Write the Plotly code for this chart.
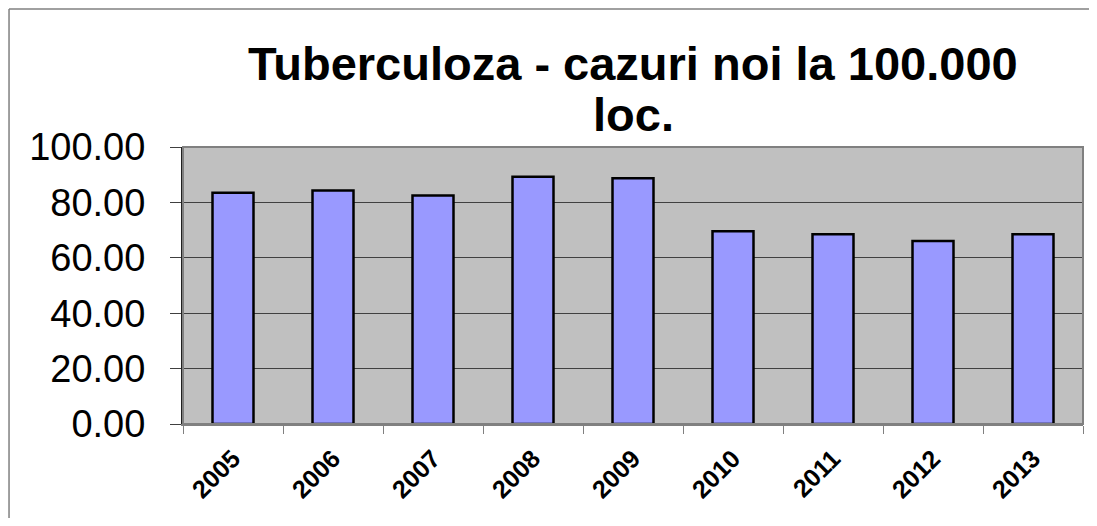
import plotly.graph_objects as go

years = ["2005", "2006", "2007", "2008", "2009", "2010", "2011", "2012", "2013"]
cases = [83.5, 84.3, 82.5, 89.3, 88.7, 69.6, 68.5, 66.1, 68.5]
y_ticks = [0, 20, 40, 60, 80, 100]
y_tick_labels = [f"{v:.2f}" for v in y_ticks]
title_lines = ["Tuberculoza - cazuri noi la 100.000", "loc."]

FONT = "Liberation Sans, Arial, sans-serif"

fig = go.Figure(
    go.Bar(
        x=years,
        y=cases,
        marker=dict(color="#9999FF", line=dict(color="#000000", width=2.5)),
        width=0.41,
        showlegend=False,
    )
)

# the page adds an 8px body margin: size the figure so the page does not scroll
frame = dict(color="#808080", width=1.5)
fig.update_layout(
    width=1089,
    height=510,
    margin=dict(l=175, r=14, t=139, b=94),
    paper_bgcolor="#FFFFFF",
    plot_bgcolor="#C0C0C0",
    font=dict(family=FONT, color="#000000"),
    annotations=[
        dict(
            text=f"<b>{title_lines[0]}</b>",
            xref="paper", yref="paper", x=0.5, y=1.303,
            xanchor="center", yanchor="middle", showarrow=False,
            font=dict(size=47, family=FONT, color="#000000"),
        ),
        dict(
            text=f"<b>{title_lines[1]}</b>",
            xref="paper", yref="paper", x=0.5, y=1.116,
            xanchor="center", yanchor="middle", showarrow=False,
            font=dict(size=47, family=FONT, color="#000000"),
        ),
    ],
    shapes=[
        # outer chart frame: only the left and top edges are in view
        dict(type="line", xref="paper", yref="paper",
             x0=-0.1933, x1=-0.1933, y0=-0.4, y1=1.498, line=frame, layer="below"),
        dict(type="line", xref="paper", yref="paper",
             x0=-0.1933, x1=1.02, y0=1.498, y1=1.498, line=frame, layer="below"),
        # plot area frame
        dict(type="rect", xref="paper", yref="paper",
             x0=0, x1=1, y0=0, y1=1,
             line=dict(color="#808080", width=2), layer="above"),
    ],
)

fig.update_yaxes(
    range=[0, 100],
    tickvals=y_ticks,
    ticktext=y_tick_labels,
    tickfont=dict(size=38, family=FONT),
    ticks="outside",
    ticklen=11,
    tickcolor="#404040",
    ticklabelstandoff=17,
    showgrid=True,
    gridcolor="#404040",
    gridwidth=1,
    showline=True,
    linecolor="#202020",
    linewidth=2,
    zeroline=False,
    automargin=False,
)

fig.update_xaxes(
    type="category",
    tickangle=-45,
    tickfont=dict(size=25, family=FONT),
    tickprefix="<b>",
    ticksuffix="</b>",
    ticks="outside",
    tickson="boundaries",
    ticklen=8,
    tickcolor="#808080",
    ticklabelstandoff=8,
    showline=True,
    linecolor="#808080",
    linewidth=2,
    showgrid=False,
    automargin=False,
)

fig.write_html("out.html")
